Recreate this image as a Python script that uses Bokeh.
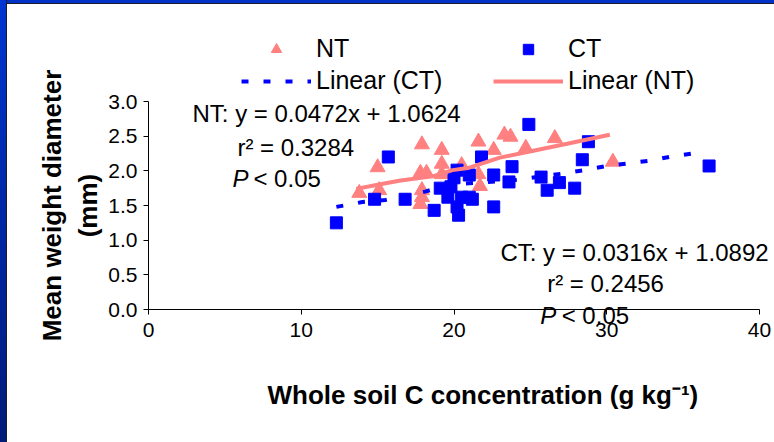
from bokeh.plotting import figure
from bokeh.models import Legend, LegendItem, Label, Div, FixedTicker, Range1d
from bokeh.layouts import row, column
from bokeh.embed import file_html
from bokeh.resources import INLINE

FONT = "Liberation Sans"

# ---- data ----
nt_x = [13.8, 15.0, 15.1, 17.9, 17.8, 17.9, 17.8, 17.9, 18.2, 19.2, 19.2, 19.2, 20.5,
        21.6, 21.6, 21.7, 22.6, 23.3, 23.7, 24.7, 26.6, 30.4]
nt_y = [1.68, 2.05, 1.72, 2.38, 1.97, 1.72, 1.52, 1.62, 1.97, 2.30, 2.10, 1.95, 2.08,
        2.42, 1.95, 1.78, 2.30, 2.52, 2.49, 2.33, 2.47, 2.13]

ct_x = [12.3, 14.8, 15.7, 16.8, 18.7, 19.1, 19.6, 19.8, 20.0, 20.2, 20.2, 20.3, 20.5,
        21.0, 21.0, 21.2, 21.8, 22.6, 22.6, 23.6, 23.8, 24.9, 25.7, 26.1, 26.9, 27.9,
        28.4, 28.8, 36.7]
ct_y = [1.25, 1.59, 2.20, 1.59, 1.43, 1.75, 1.62, 1.77, 1.90, 2.01, 1.48, 1.36, 1.62,
        1.94, 1.62, 1.59, 2.20, 1.94, 1.48, 1.84, 2.06, 2.67, 1.91, 1.72, 1.83, 1.75,
        2.16, 2.42, 2.07]

nt_fit_x = [13.6, 15.0, 16.5, 18.6, 19.9, 20.9, 23.0, 25.2, 27.4, 30.2]
nt_fit_y = [1.74, 1.80, 1.86, 1.92, 2.01, 2.04, 2.19, 2.29, 2.39, 2.52]

ct_fit_x = [12.3, 14.0, 15.5, 18.1, 19.7, 21.7, 24.1, 27.1, 28.5, 30.0, 31.5, 32.9, 34.3, 35.9]
ct_fit_y = [1.48, 1.55, 1.58, 1.70, 1.80, 1.83, 1.87, 1.96, 2.01, 2.07, 2.11, 2.15, 2.21, 2.26]

x_ticks = [0, 10, 20, 30, 40]
x_tick_labels = ["0", "10", "20", "30", "40"]
y_ticks = [0, 0.5, 1.0, 1.5, 2.0, 2.5, 3.0]
y_tick_labels = ["0.0", "0.5", "1.0", "1.5", "2.0", "2.5", "3.0"]

series_names = ["NT", "CT", "Linear (CT)", "Linear (NT)"]
nt_color = "#FF8080"
ct_color = "#0000FF"

# ---- figure ----
# The frame fills the whole figure so that legend, notes and the fixed-location axes are
# never clipped; the axes themselves are bounded to 0-40 / 0-3.
PX_PER_X = 611 / 40.0
PX_PER_Y = 208 / 3.0
x_lo = -141 / PX_PER_X
x_hi = 626 / PX_PER_X
y_lo = -133 / PX_PER_Y
y_hi = 305 / PX_PER_Y
p = figure(width=767, height=438, x_range=Range1d(x_lo, x_hi), y_range=Range1d(y_lo, y_hi),
           output_backend="svg", toolbar_location=None,
           min_border_left=0, min_border_right=0, min_border_top=0, min_border_bottom=0)
p.grid.visible = False
p.outline_line_color = None
p.background_fill_color = "white"
p.border_fill_color = "white"

for ax in (p.xaxis[0], p.yaxis[0]):
    ax.fixed_location = 0
    ax.axis_line_color = "black"
    ax.major_tick_line_color = "black"
    ax.minor_tick_line_color = None
    ax.major_tick_in = 0
    ax.major_tick_out = 5
    ax.major_label_text_font = FONT
    ax.major_label_text_font_size = "21px"
    ax.major_label_text_color = "black"
    ax.axis_label_text_font = FONT
    ax.axis_label_text_font_size = "26px"
    ax.axis_label_text_font_style = "bold"
    ax.axis_label_text_color = "black"

p.xaxis.ticker = FixedTicker(ticks=x_ticks)
p.xaxis.major_label_overrides = dict(zip(x_ticks, x_tick_labels))
p.xaxis.bounds = (0, 40)
p.yaxis.ticker = FixedTicker(ticks=y_ticks)
p.yaxis.major_label_overrides = dict(zip(y_ticks, y_tick_labels))
p.yaxis.bounds = (0, 3)
p.xaxis.major_label_standoff = 8
p.yaxis.major_label_standoff = 6
p.xaxis.axis_label = "\u00a0" * 8 + "Whole soil C concentration (g kg\u207b\u00b9)"
p.xaxis.axis_label_standoff = 40
p.yaxis.axis_label = "Mean weight diameter\n(mm)"
p.yaxis.axis_label_standoff = 2

r_nt = p.scatter(nt_x, nt_y, marker="triangle", size=15, color=nt_color)
r_ct = p.scatter(ct_x, ct_y, marker="square", size=12, color=ct_color)
r_ctl = p.line(ct_fit_x, ct_fit_y, line_color=ct_color, line_width=4, line_dash="7 15")
r_ntl = p.line(nt_fit_x, nt_fit_y, line_color=nt_color, line_width=4)

def legend_row(items, vy):
    lg = Legend(items=items, orientation="horizontal", location=(234, vy),
                glyph_width=70, glyph_height=26, label_standoff=5, label_width=175,
                label_height=26, spacing=2, padding=0, margin=0,
                border_line_color=None, background_fill_alpha=0,
                label_text_font=FONT, label_text_font_size="25px", label_text_color="black")
    p.add_layout(lg, "center")

legend_row([LegendItem(label=series_names[0], renderers=[r_nt]),
            LegendItem(label=series_names[1], renderers=[r_ct])], 379)
legend_row([LegendItem(label=series_names[2], renderers=[r_ctl]),
            LegendItem(label=series_names[3], renderers=[r_ntl])], 347)

def lab(x, y, text, style="normal"):
    p.add_layout(Label(x=x, y=y, text=text, text_font=FONT, text_font_size="24px",
                       text_font_style=style, text_color="black",
                       text_align="left", text_baseline="middle"))

lab(2.88, 2.83, "NT: y = 0.0472x + 1.0624")
lab(5.82, 2.34, "r\u00b2 = 0.3284")
lab(5.50, 1.89, "P", "italic")
lab(6.87, 1.89, "< 0.05")
lab(23.04, 0.82, "CT: y = 0.0316x + 1.0892")
lab(26.10, 0.375, "r\u00b2 = 0.2456")
lab(25.65, -0.087, "P", "italic")
lab(27.05, -0.087, "< 0.05")

# ---- blue slide frame ----
left_band = Div(width=7, height=442, margin=0,
                styles={"background": "linear-gradient(to bottom, #0035d0, #001a78)",
                        "box-shadow": "inset -1px 0 0 #1a1a2a"})
top_band = Div(width=767, height=4, margin=0,
               styles={"background": "#0032c8", "box-shadow": "inset 0 -1px 0 #1a1a2a"})
layout = row(left_band, column(top_band, p, spacing=0), spacing=0)

open("out.html", "w").write(file_html(layout, INLINE))
